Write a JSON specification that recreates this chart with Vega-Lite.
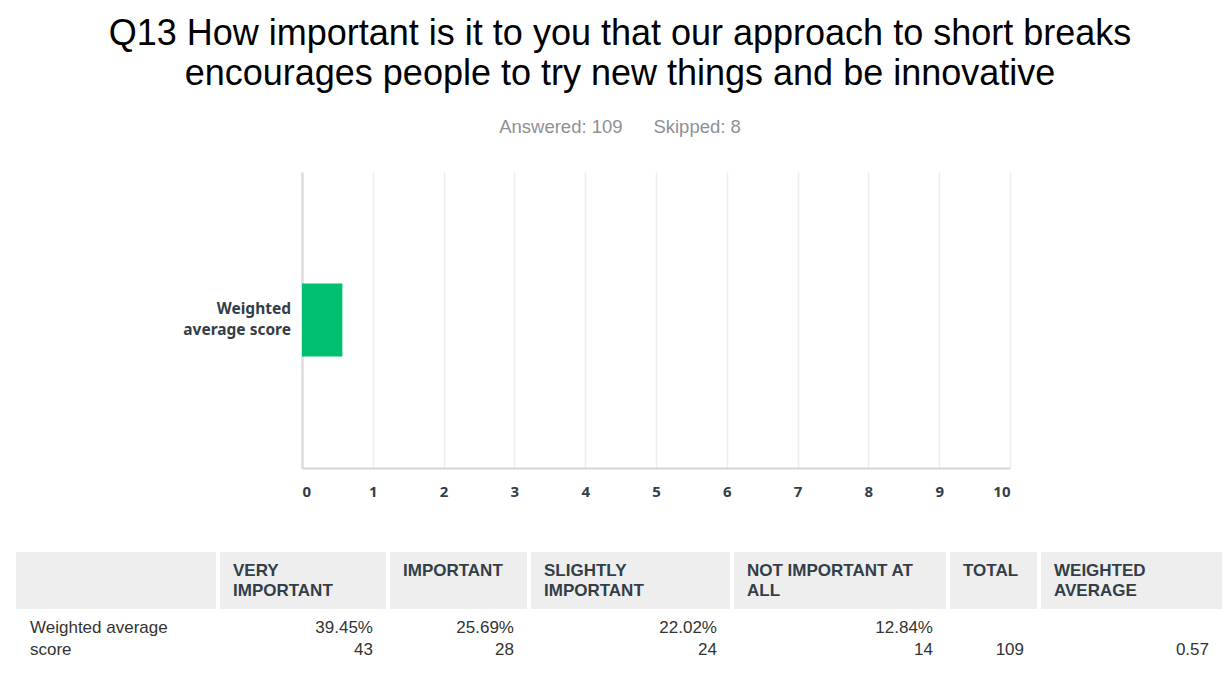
{
  "$schema": "https://vega.github.io/schema/vega-lite/v6.json",
  "padding": {"left": 16, "top": 15, "right": 10, "bottom": 0},
  "background": "white",
  "datasets": {
    "bar": [
      {"label": "Weighted average score", "lines": ["Weighted", "average score"], "value": 0.57}
    ],
    "table": [
      {"col": "ROW", "header": [""], "value": ["Weighted average", "score"]},
      {"col": "VERY IMPORTANT", "header": ["VERY", "IMPORTANT"], "value": ["39.45%", "43"]},
      {"col": "IMPORTANT", "header": ["IMPORTANT"], "value": ["25.69%", "28"]},
      {"col": "SLIGHTLY IMPORTANT", "header": ["SLIGHTLY", "IMPORTANT"], "value": ["22.02%", "24"]},
      {"col": "NOT IMPORTANT AT ALL", "header": ["NOT IMPORTANT AT", "ALL"], "value": ["12.84%", "14"]},
      {"col": "TOTAL", "header": ["TOTAL"], "value": ["", "109"]},
      {"col": "WEIGHTED AVERAGE", "header": ["WEIGHTED", "AVERAGE"], "value": ["", "0.57"]}
    ]
  },
  "spacing": 53,
  "vconcat": [
    {
      "spacing": 11,
      "bounds": "flush",
      "hconcat": [
        {
          "width": 275,
          "height": 296,
          "data": {"name": "bar"},
          "mark": {"type": "text", "align": "right", "baseline": "middle", "dy": -11, "font": "Noto Sans", "fontWeight": "bold", "fontSize": 15.5, "lineHeight": 21, "color": "#333e48"},
          "encoding": {
            "y": {"field": "label", "type": "nominal", "scale": {"paddingInner": 0.345, "paddingOuter": 1}, "axis": null},
            "x": {"value": "width"},
            "text": {"field": "lines", "type": "nominal"}
          }
        },
        {
          "width": 708,
          "height": 296,
          "title": {
            "text": ["Q13 How important is it to you that our approach to short breaks", "encourages people to try new things and be innovative"],
            "subtitle": "Answered: 109\u00a0\u00a0\u00a0\u00a0\u00a0\u00a0Skipped: 8",
            "anchor": "middle",
            "frame": "group",
            "dx": -36,
            "font": "Liberation Sans",
            "fontSize": 36,
            "fontWeight": "normal",
            "color": "#000000",
            "lineHeight": 40,
            "subtitleFont": "Liberation Sans",
            "subtitleFontSize": 18.5,
            "subtitleColor": "#8d9196",
            "subtitlePadding": 25,
            "offset": 35
          },
          "data": {"name": "bar"},
          "mark": {"type": "bar", "color": "#00bf6f"},
          "encoding": {
            "y": {
              "field": "label",
              "type": "nominal",
              "scale": {"paddingInner": 0.345, "paddingOuter": 1},
              "axis": {
                "title": null,
                "ticks": false,
                "labels": false,
                "domain": true,
                "domainColor": "#dcdcdc",
                "domainWidth": 2.5
              }
            },
            "x": {
              "field": "value",
              "type": "quantitative",
              "scale": {"domain": [0, 10], "nice": false},
              "axis": {
                "title": null,
                "values": [0, 1, 2, 3, 4, 5, 6, 7, 8, 9, 10],
                "ticks": false,
                "grid": true,
                "gridColor": "#eeecee",
                "gridWidth": 1.5,
                "domainColor": "#d4d4d4",
                "domainWidth": 2,
                "labelFont": "Noto Sans",
                "labelFontWeight": "bold",
                "labelFontSize": 15,
                "labelColor": "#333e48",
                "labelPadding": 16,
                "labelFlush": true
              }
            }
          }
        }
      ]
    },
    {
      "spacing": 4,
      "hconcat": [
        {
          "width": 200, "height": 114,
          "data": {"name": "table"},
          "transform": [{"filter": "datum.col === 'ROW'"}],
          "encoding": {"x": {"field": "col", "type": "nominal", "scale": {"paddingInner": 0, "paddingOuter": 0}, "axis": null}},
          "layer": [
            {"mark": {"type": "rect", "color": "#eeeeee"}, "encoding": {"y": {"datum": "header", "type": "nominal", "scale": {"domain": ["header", "body"], "paddingInner": 0, "paddingOuter": 0}, "axis": null}}},
            {"mark": {"type": "text", "align": "left", "baseline": "top", "dx": 14, "dy": 11, "font": "Liberation Sans", "fontSize": 17, "lineHeight": 22, "color": "#333333"},
             "encoding": {"x": {"field": "col", "type": "nominal", "bandPosition": 0}, "y": {"datum": "body", "type": "nominal", "bandPosition": 0}, "text": {"field": "value", "type": "nominal"}}}
          ]
        },
        {
          "width": 166, "height": 114,
          "data": {"name": "table"},
          "transform": [{"filter": "datum.col === 'VERY IMPORTANT'"}],
          "encoding": {"x": {"field": "col", "type": "nominal", "scale": {"paddingInner": 0, "paddingOuter": 0}, "axis": null}},
          "layer": [
            {"mark": {"type": "rect", "color": "#eeeeee"}, "encoding": {"y": {"datum": "header", "type": "nominal", "scale": {"domain": ["header", "body"], "paddingInner": 0, "paddingOuter": 0}, "axis": null}}},
            {"mark": {"type": "text", "align": "left", "baseline": "top", "dx": 13, "dy": 11, "font": "Liberation Sans", "fontWeight": "bold", "fontSize": 17, "lineHeight": 20, "color": "#333e48"},
             "encoding": {"x": {"field": "col", "type": "nominal", "bandPosition": 0}, "y": {"datum": "header", "type": "nominal", "bandPosition": 0}, "text": {"field": "header", "type": "nominal"}}},
            {"mark": {"type": "text", "align": "right", "baseline": "top", "dx": -13, "dy": 11, "font": "Liberation Sans", "fontSize": 17, "lineHeight": 22, "color": "#333333"},
             "encoding": {"x": {"field": "col", "type": "nominal", "bandPosition": 1}, "y": {"datum": "body", "type": "nominal", "bandPosition": 0}, "text": {"field": "value", "type": "nominal"}}}
          ]
        },
        {
          "width": 137, "height": 114,
          "data": {"name": "table"},
          "transform": [{"filter": "datum.col === 'IMPORTANT'"}],
          "encoding": {"x": {"field": "col", "type": "nominal", "scale": {"paddingInner": 0, "paddingOuter": 0}, "axis": null}},
          "layer": [
            {"mark": {"type": "rect", "color": "#eeeeee"}, "encoding": {"y": {"datum": "header", "type": "nominal", "scale": {"domain": ["header", "body"], "paddingInner": 0, "paddingOuter": 0}, "axis": null}}},
            {"mark": {"type": "text", "align": "left", "baseline": "top", "dx": 13, "dy": 11, "font": "Liberation Sans", "fontWeight": "bold", "fontSize": 17, "lineHeight": 20, "color": "#333e48"},
             "encoding": {"x": {"field": "col", "type": "nominal", "bandPosition": 0}, "y": {"datum": "header", "type": "nominal", "bandPosition": 0}, "text": {"field": "header", "type": "nominal"}}},
            {"mark": {"type": "text", "align": "right", "baseline": "top", "dx": -13, "dy": 11, "font": "Liberation Sans", "fontSize": 17, "lineHeight": 22, "color": "#333333"},
             "encoding": {"x": {"field": "col", "type": "nominal", "bandPosition": 1}, "y": {"datum": "body", "type": "nominal", "bandPosition": 0}, "text": {"field": "value", "type": "nominal"}}}
          ]
        },
        {
          "width": 199, "height": 114,
          "data": {"name": "table"},
          "transform": [{"filter": "datum.col === 'SLIGHTLY IMPORTANT'"}],
          "encoding": {"x": {"field": "col", "type": "nominal", "scale": {"paddingInner": 0, "paddingOuter": 0}, "axis": null}},
          "layer": [
            {"mark": {"type": "rect", "color": "#eeeeee"}, "encoding": {"y": {"datum": "header", "type": "nominal", "scale": {"domain": ["header", "body"], "paddingInner": 0, "paddingOuter": 0}, "axis": null}}},
            {"mark": {"type": "text", "align": "left", "baseline": "top", "dx": 13, "dy": 11, "font": "Liberation Sans", "fontWeight": "bold", "fontSize": 17, "lineHeight": 20, "color": "#333e48"},
             "encoding": {"x": {"field": "col", "type": "nominal", "bandPosition": 0}, "y": {"datum": "header", "type": "nominal", "bandPosition": 0}, "text": {"field": "header", "type": "nominal"}}},
            {"mark": {"type": "text", "align": "right", "baseline": "top", "dx": -13, "dy": 11, "font": "Liberation Sans", "fontSize": 17, "lineHeight": 22, "color": "#333333"},
             "encoding": {"x": {"field": "col", "type": "nominal", "bandPosition": 1}, "y": {"datum": "body", "type": "nominal", "bandPosition": 0}, "text": {"field": "value", "type": "nominal"}}}
          ]
        },
        {
          "width": 212, "height": 114,
          "data": {"name": "table"},
          "transform": [{"filter": "datum.col === 'NOT IMPORTANT AT ALL'"}],
          "encoding": {"x": {"field": "col", "type": "nominal", "scale": {"paddingInner": 0, "paddingOuter": 0}, "axis": null}},
          "layer": [
            {"mark": {"type": "rect", "color": "#eeeeee"}, "encoding": {"y": {"datum": "header", "type": "nominal", "scale": {"domain": ["header", "body"], "paddingInner": 0, "paddingOuter": 0}, "axis": null}}},
            {"mark": {"type": "text", "align": "left", "baseline": "top", "dx": 13, "dy": 11, "font": "Liberation Sans", "fontWeight": "bold", "fontSize": 17, "lineHeight": 20, "color": "#333e48"},
             "encoding": {"x": {"field": "col", "type": "nominal", "bandPosition": 0}, "y": {"datum": "header", "type": "nominal", "bandPosition": 0}, "text": {"field": "header", "type": "nominal"}}},
            {"mark": {"type": "text", "align": "right", "baseline": "top", "dx": -13, "dy": 11, "font": "Liberation Sans", "fontSize": 17, "lineHeight": 22, "color": "#333333"},
             "encoding": {"x": {"field": "col", "type": "nominal", "bandPosition": 1}, "y": {"datum": "body", "type": "nominal", "bandPosition": 0}, "text": {"field": "value", "type": "nominal"}}}
          ]
        },
        {
          "width": 87, "height": 114,
          "data": {"name": "table"},
          "transform": [{"filter": "datum.col === 'TOTAL'"}],
          "encoding": {"x": {"field": "col", "type": "nominal", "scale": {"paddingInner": 0, "paddingOuter": 0}, "axis": null}},
          "layer": [
            {"mark": {"type": "rect", "color": "#eeeeee"}, "encoding": {"y": {"datum": "header", "type": "nominal", "scale": {"domain": ["header", "body"], "paddingInner": 0, "paddingOuter": 0}, "axis": null}}},
            {"mark": {"type": "text", "align": "left", "baseline": "top", "dx": 13, "dy": 11, "font": "Liberation Sans", "fontWeight": "bold", "fontSize": 17, "lineHeight": 20, "color": "#333e48"},
             "encoding": {"x": {"field": "col", "type": "nominal", "bandPosition": 0}, "y": {"datum": "header", "type": "nominal", "bandPosition": 0}, "text": {"field": "header", "type": "nominal"}}},
            {"mark": {"type": "text", "align": "right", "baseline": "top", "dx": -13, "dy": 11, "font": "Liberation Sans", "fontSize": 17, "lineHeight": 22, "color": "#333333"},
             "encoding": {"x": {"field": "col", "type": "nominal", "bandPosition": 1}, "y": {"datum": "body", "type": "nominal", "bandPosition": 0}, "text": {"field": "value", "type": "nominal"}}}
          ]
        },
        {
          "width": 181, "height": 114,
          "data": {"name": "table"},
          "transform": [{"filter": "datum.col === 'WEIGHTED AVERAGE'"}],
          "encoding": {"x": {"field": "col", "type": "nominal", "scale": {"paddingInner": 0, "paddingOuter": 0}, "axis": null}},
          "layer": [
            {"mark": {"type": "rect", "color": "#eeeeee"}, "encoding": {"y": {"datum": "header", "type": "nominal", "scale": {"domain": ["header", "body"], "paddingInner": 0, "paddingOuter": 0}, "axis": null}}},
            {"mark": {"type": "text", "align": "left", "baseline": "top", "dx": 13, "dy": 11, "font": "Liberation Sans", "fontWeight": "bold", "fontSize": 17, "lineHeight": 20, "color": "#333e48"},
             "encoding": {"x": {"field": "col", "type": "nominal", "bandPosition": 0}, "y": {"datum": "header", "type": "nominal", "bandPosition": 0}, "text": {"field": "header", "type": "nominal"}}},
            {"mark": {"type": "text", "align": "right", "baseline": "top", "dx": -13, "dy": 11, "font": "Liberation Sans", "fontSize": 17, "lineHeight": 22, "color": "#333333"},
             "encoding": {"x": {"field": "col", "type": "nominal", "bandPosition": 1}, "y": {"datum": "body", "type": "nominal", "bandPosition": 0}, "text": {"field": "value", "type": "nominal"}}}
          ]
        }
      ]
    }
  ],
  "config": {
    "view": {"stroke": null}
  }
}
